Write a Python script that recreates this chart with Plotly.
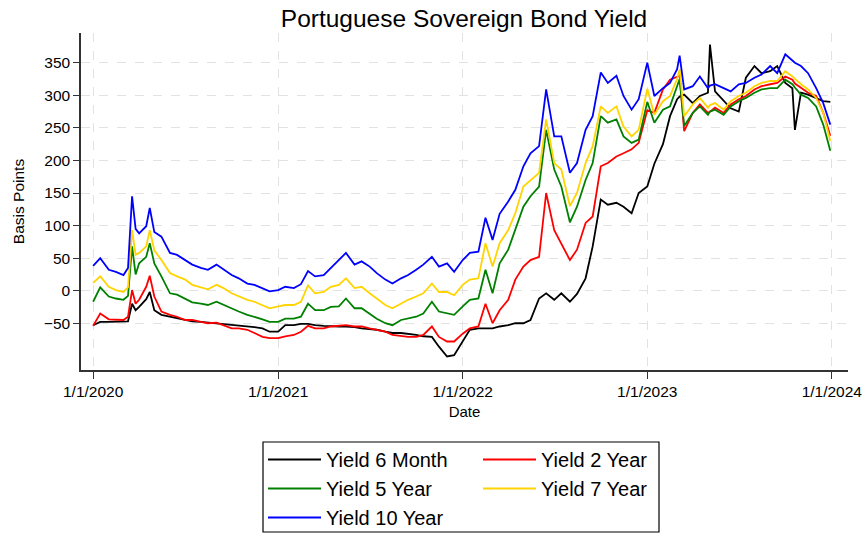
import plotly.graph_objects as go

# ---------------- data ----------------
dates_2020 = ["2020-01-01", "2020-01-15", "2020-02-01", "2020-02-15", "2020-03-01", "2020-03-10",
              "2020-03-18", "2020-03-25", "2020-04-01", "2020-04-15", "2020-04-22", "2020-05-01",
              "2020-05-15", "2020-06-01", "2020-06-15", "2020-07-01", "2020-07-15", "2020-08-01",
              "2020-08-15", "2020-09-01", "2020-09-15", "2020-10-01", "2020-10-15", "2020-11-01",
              "2020-11-15", "2020-12-01", "2020-12-15"]
dates_2021 = ["2021-01-01", "2021-01-15", "2021-02-01", "2021-02-15", "2021-03-01", "2021-03-15",
              "2021-04-01", "2021-04-15", "2021-05-01", "2021-05-15", "2021-06-01", "2021-06-15",
              "2021-07-01", "2021-07-15", "2021-08-01", "2021-08-15", "2021-09-01", "2021-09-15",
              "2021-10-01", "2021-10-15", "2021-11-01", "2021-11-15", "2021-12-01", "2021-12-15"]
dates_2022 = ["2022-01-01", "2022-01-15", "2022-02-01", "2022-02-15", "2022-03-01", "2022-03-15",
              "2022-04-01", "2022-04-15", "2022-05-01", "2022-05-15", "2022-06-01", "2022-06-15",
              "2022-07-01", "2022-07-15", "2022-08-01", "2022-08-15", "2022-09-01", "2022-09-15",
              "2022-10-01", "2022-10-15", "2022-11-01", "2022-11-15", "2022-12-01", "2022-12-15"]
dates_2023 = ["2023-01-01", "2023-01-15", "2023-02-01", "2023-02-15", "2023-03-01", "2023-03-06",
              "2023-03-15", "2023-04-01", "2023-04-15", "2023-05-01", "2023-05-05", "2023-05-15",
              "2023-06-01", "2023-06-15", "2023-07-01", "2023-07-15", "2023-08-01", "2023-08-15",
              "2023-09-01", "2023-09-15", "2023-10-01", "2023-10-15", "2023-10-20", "2023-11-01",
              "2023-11-15", "2023-12-01", "2023-12-15", "2023-12-29"]
dates = dates_2020 + dates_2021 + dates_2022 + dates_2023

yield_6m = ([-53, -48, -48, -48, -48, -47, -20, -30, -25, -13, -2, -30, -37, -40, -42, -45, -47, -48,
             -49, -50, -51, -53, -54, -55, -56, -58, -63]
            + [-63, -53, -53, -51, -51, -53, -54, -55, -55, -55, -56, -58, -59, -60, -63, -65, -65, -66,
               -68, -70, -71, -86, -101, -99]
            + [-78, -60, -58, -58, -58, -55, -53, -50, -50, -45, -12, -4, -14, -4, -17, -5, 19, 68,
               140, 132, 135, 129, 119, 150]
            + [160, 195, 225, 268, 294, 298, 301, 288, 299, 304, 378, 306, 291, 280, 275, 327, 345, 334,
               337, 345, 319, 311, 247, 304, 301, 296, 291, 290])
yield_2y = ([-54, -35, -44, -44, -45, -40, 1, -20, -14, 6, 23, -9, -32, -37, -40, -45, -45, -48,
             -50, -49, -53, -58, -58, -60, -65, -71, -73]
            + [-73, -70, -68, -63, -54, -58, -58, -55, -54, -53, -55, -55, -58, -60, -63, -68, -70, -71,
               -71, -68, -55, -71, -78, -78]
            + [-66, -58, -55, -20, -50, -30, -14, 17, 37, 47, 52, 150, 93, 73, 47, 63, 104, 114,
               191, 196, 206, 211, 217, 227]
            + [277, 273, 309, 324, 329, 330, 245, 273, 286, 273, 275, 281, 273, 286, 294, 299, 309, 314,
               317, 319, 329, 324, 318, 311, 304, 299, 273, 238])
yield_5y = ([-17, 5, -9, -12, -14, -8, 68, 25, 42, 52, 73, 42, 22, -4, -6, -12, -18, -20,
             -22, -17, -22, -27, -32, -37, -40, -44, -48]
            + [-48, -43, -43, -40, -20, -30, -30, -25, -24, -12, -27, -27, -35, -43, -50, -53, -45, -43,
               -40, -35, -17, -32, -35, -37]
            + [-24, -14, -12, 32, -4, 42, 63, 93, 129, 145, 160, 247, 186, 160, 105, 129, 170, 196,
               268, 258, 263, 237, 227, 232]
            + [290, 258, 278, 283, 315, 325, 253, 273, 283, 270, 275, 278, 270, 283, 291, 296, 304, 309,
               311, 311, 324, 317, 312, 301, 296, 283, 255, 215])
yield_7y = ([12, 22, 6, 1, -2, 5, 93, 55, 58, 68, 93, 62, 47, 27, 22, 17, 9, 5,
             2, 9, 4, -4, -9, -14, -17, -22, -27]
            + [-24, -22, -22, -17, 8, -4, -2, 6, 9, 19, 4, 6, -4, -12, -22, -27, -20, -14,
               -9, -4, 11, -2, -2, -7]
            + [9, 17, 19, 73, 37, 73, 93, 119, 160, 170, 181, 263, 196, 186, 130, 150, 196, 222,
               283, 273, 283, 252, 237, 247]
            + [310, 270, 291, 299, 325, 340, 268, 286, 296, 281, 285, 288, 278, 291, 299, 304, 314, 319,
               322, 322, 337, 329, 325, 317, 309, 296, 273, 230])
yield_10y = ([38, 50, 32, 29, 24, 35, 145, 95, 88, 99, 127, 90, 83, 58, 55, 47, 40, 35,
              32, 40, 33, 24, 19, 11, 9, 4, -1]
             + [1, 6, 4, 10, 30, 22, 24, 35, 47, 58, 40, 45, 37, 27, 17, 11, 19, 24,
                32, 40, 52, 37, 42, 29]
             + [47, 58, 60, 112, 78, 118, 137, 155, 191, 211, 222, 309, 237, 237, 181, 196, 247, 268,
                335, 319, 330, 299, 278, 294]
             + [350, 299, 311, 319, 340, 361, 309, 314, 329, 311, 315, 317, 311, 306, 317, 319, 327, 332,
                345, 334, 363, 353, 350, 345, 334, 311, 288, 255])

series_names = ["Yield 6 Month", "Yield 2 Year", "Yield 5 Year", "Yield 7 Year", "Yield 10 Year"]
series_values = [yield_6m, yield_2y, yield_5y, yield_7y, yield_10y]

x_tick_dates = ["2020-01-01", "2021-01-01", "2022-01-01", "2023-01-01", "2024-01-01"]
x_tick_text = ["1/1/2020", "1/1/2021", "1/1/2022", "1/1/2023", "1/1/2024"]
y_tick_vals = [-50, 0, 50, 100, 150, 200, 250, 300, 350]

# ---------------- styling ----------------
W, H = 865, 534
L, R, T, B = 81, 17, 33, 164
FONT = "Arial, 'Liberation Sans', sans-serif"
colors = ["#000000", "#ff0000", "#008000", "#ffd400", "#0000ff"]
legend_ids = ["legend", "legend2", "legend", "legend2", "legend"]
AXIS = "#333333"
GRID = "#e2e2e2"

fig = go.Figure()
for name, vals, col, lg in zip(series_names, series_values, colors, legend_ids):
    fig.add_trace(go.Scatter(x=dates, y=vals, mode="lines", name=name,
                             line=dict(color=col, width=1.8), legend=lg))

pw, ph = W - L - R, H - T - B


def px_to_paper(px, py):
    return (px - L) / pw, (H - B - py) / ph


bx0, by0 = px_to_paper(263, 532)
bx1, by1 = px_to_paper(659, 442)
l1x, l1y = px_to_paper(263, 440)
l2x, l2y = px_to_paper(478, 440)

fig.update_layout(
    width=W, height=H,
    margin=dict(l=L, r=R, t=T, b=B, pad=0, autoexpand=False),
    plot_bgcolor="white", paper_bgcolor="white",
    font=dict(family=FONT, color="#000000", size=15),
    title=dict(text="Portuguese Sovereign Bond Yield", x=464 / W, xanchor="center",
               y=1 - 18 / H, yanchor="middle", font=dict(size=24.5, color="#000000")),
    xaxis=dict(type="date", range=["2019-12-08", "2024-02-02"],
               tickmode="array", tickvals=x_tick_dates, ticktext=x_tick_text,
               showgrid=True, gridcolor=GRID, griddash="dash", gridwidth=1,
               showline=True, linecolor=AXIS, linewidth=1.5, mirror=False,
               ticks="outside", ticklen=7, tickwidth=1.3, tickcolor=AXIS,
               tickfont=dict(size=15.5), zeroline=False, automargin=False,
               title=dict(text="Date", font=dict(size=15), standoff=7)),
    yaxis=dict(range=[-121.8, 395.7], tickmode="array", tickvals=y_tick_vals,
               showgrid=True, gridcolor=GRID, griddash="dash", gridwidth=1,
               showline=True, linecolor=AXIS, linewidth=1.5,
               ticks="outside", ticklen=6, tickwidth=1.3, tickcolor=AXIS,
               tickfont=dict(size=15.5), zeroline=False, automargin=False,
               title=dict(text="Basis Points", font=dict(size=15.5), standoff=15)),
    legend=dict(x=l1x, y=l1y, xanchor="left", yanchor="top", orientation="v",
                font=dict(size=20), itemwidth=53, bgcolor="rgba(0,0,0,0)",
                borderwidth=0, tracegroupgap=0),
    legend2=dict(x=l2x, y=l2y, xanchor="left", yanchor="top", orientation="v",
                 font=dict(size=20), itemwidth=53, bgcolor="rgba(0,0,0,0)",
                 borderwidth=0, tracegroupgap=0),
    shapes=[dict(type="rect", xref="paper", yref="paper", x0=bx0, x1=bx1, y0=by0, y1=by1,
                 line=dict(color="#000000", width=1.2), fillcolor="rgba(0,0,0,0)", layer="above")],
    showlegend=True,
)

fig.write_html("out.html")
